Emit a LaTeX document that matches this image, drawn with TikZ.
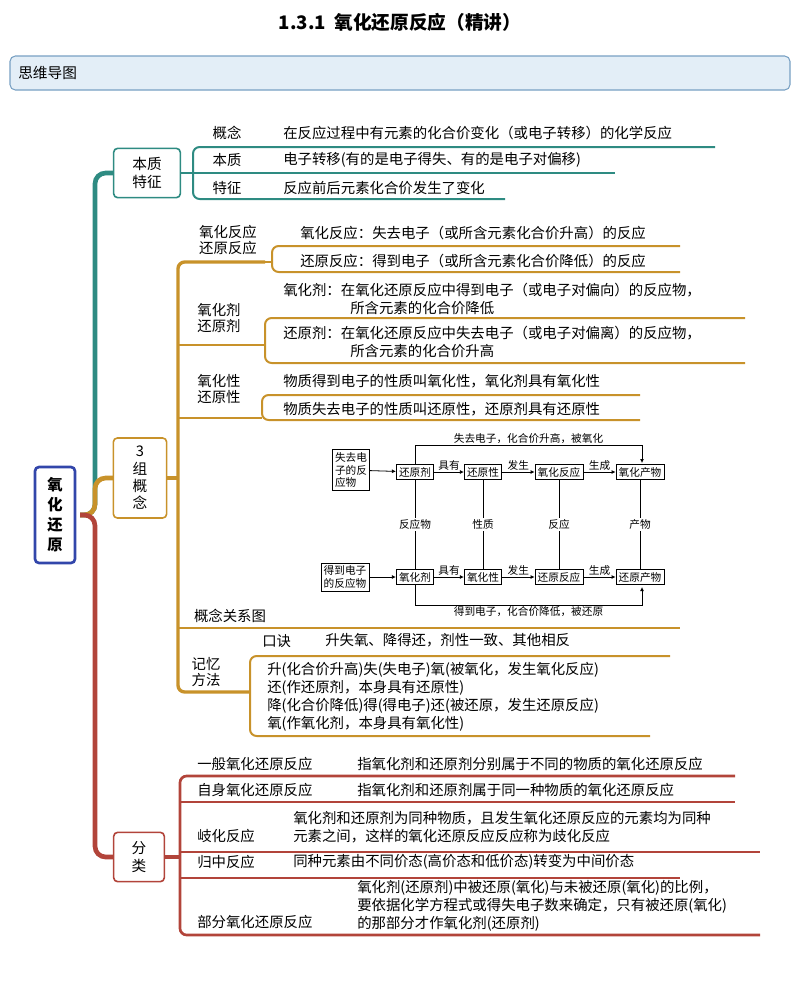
\documentclass[tikz,border=0pt]{standalone}
\usepackage{fontspec}
\setmainfont{Noto Sans CJK SC}
\usetikzlibrary{arrows.meta}
\definecolor{teal1}{RGB}{46,139,130}
\definecolor{gold1}{RGB}{200,146,42}
\definecolor{red1}{RGB}{178,68,58}
\definecolor{hdr}{RGB}{227,238,247}
\definecolor{hdrb}{RGB}{120,160,195}
\definecolor{rootb}{RGB}{50,70,170}
\begin{document}
\begin{tikzpicture}[x=0.75pt,y=-0.75pt,
  t/.style={anchor=west,inner sep=0pt,font=\fontsize{10.8}{12}\selectfont},
  lab/.style={inner sep=0pt,font=\fontsize{10.8}{12}\selectfont,align=center},
  box/.style={draw,rounded corners=3pt,line width=1.2pt,fill=white,align=center,font=\fontsize{11}{13}\selectfont},
  db/.style={draw,line width=0.6pt,inner sep=2pt,font=\fontsize{8}{9.5}\selectfont,align=left,fill=white},
  dl/.style={inner sep=1pt,font=\fontsize{8}{9.5}\selectfont},
  arr/.style={-{Latex[length=3pt,width=3pt]},line width=0.6pt},
  trunk/.style={line width=3.5pt,rounded corners=8pt},
  br/.style={line width=1.5pt,rounded corners=5pt}]
\useasboundingbox (0,0) rectangle (800,1001);
\node[font=\bfseries\fontsize{14}{16}\selectfont] (title) at (400,22) {1.3.1\ \ 氧化还原反应（精讲）};
\draw[draw=hdrb,fill=hdr,rounded corners=4pt,line width=0.8pt] (10,56) rectangle (790,90);
\node[t,font=\fontsize{11}{13}\selectfont] (hdr) at (18,73) {思维导图};
% trunks
\draw[teal1,trunk] (80,515) -- (95,515) -- (95,173) -- (113,173);
\draw[gold1,trunk] (80,515) -- (95,515) -- (95,478) -- (113,478);
\draw[red1,trunk] (80,515) -- (95,515) -- (95,857) -- (113,857);
\node[draw=rootb,line width=2pt,rounded corners=3pt,fill=white,minimum width=30pt,minimum height=72pt,align=center,font=\bfseries\fontsize{11.5}{15}\selectfont] (root) at (55,515) {氧\\化\\还\\原};
% teal group
\node[box,draw=teal1,minimum width=50pt,minimum height=37pt] (bz) at (147,173) {本质\\特征};
\draw[teal1,br] (bz.east) -- (193,173);
\draw[teal1,br] (715,147) -- (193,147) -- (193,199) -- (505,199);
\draw[teal1,br] (193,173) -- (615,173);
\node[lab] (l1) at (227,133) {概念};
\node[lab] (l2) at (227,160) {本质};
\node[lab] (l3) at (227,188) {特征};
\node[t] (t1) at (283,133) {在反应过程中有元素的化合价变化（或电子转移）的化学反应};
\node[t] (t2) at (283,160) {电子转移(有的是电子得失、有的是电子对偏移)};
\node[t] (t3) at (283,188) {反应前后元素化合价发生了变化};
% gold group
\node[box,draw=gold1,minimum width=40pt,minimum height=60pt] (sz) at (140,478) {3\\组\\概\\念};
\draw[gold1,line width=2.5pt] (sz.east) -- (178,478);
\draw[gold1,br,line width=2.5pt] (265,262) -- (178,262) -- (178,692) -- (250,692);
\draw[gold1,br] (178,345) -- (265,345);
\draw[gold1,br] (178,418) -- (262,418);
\draw[gold1,br] (178,628) -- (680,628);
\node[lab] (g1) at (228,240) {氧化反应\\还原反应};
\node[lab] (g2) at (219,318) {氧化剂\\还原剂};
\node[lab] (g3) at (219,389) {氧化性\\还原性};
\node[lab] (g4) at (230,616) {概念关系图};
\node[lab] (g5) at (206,672) {记忆\\方法};
\draw[gold1,br] (680,246) -- (272,246) -- (272,272) -- (680,272);
\draw[gold1,br] (265,262) -- (272,262);
\node[t] (a1) at (300,233) {氧化反应：失去电子（或所含元素化合价升高）的反应};
\node[t] (a2) at (300,261) {还原反应：得到电子（或所含元素化合价降低）的反应};
\draw[gold1,br] (745,318) -- (265,318) -- (265,363) -- (745,363);
\node[t] (b1) at (283,290) {氧化剂：在氧化还原反应中得到电子（或电子对偏向）的反应物，};
\node[t] (b1b) at (350,308) {所含元素的化合价降低};
\node[t] (b2) at (283,333) {还原剂：在氧化还原反应中失去电子（或电子对偏离）的反应物，};
\node[t] (b2b) at (350,351) {所含元素的化合价升高};
\draw[gold1,br] (640,395) -- (262,395) -- (262,420) -- (640,420);
\node[t] (c1) at (283,381) {物质得到电子的性质叫氧化性，氧化剂具有氧化性};
\node[t] (c2) at (283,409) {物质失去电子的性质叫还原性，还原剂具有还原性};
\node[t] (k0) at (262,641) {口诀};
\node[t] (k1) at (325,640) {升失氧、降得还，剂性一致、其他相反};
\draw[gold1,br] (670,656) -- (250,656) -- (250,736) -- (650,736);
\node[t] (m1) at (267,670) {升(化合价升高)失(失电子)氧(被氧化，发生氧化反应)};
\node[t] (m2) at (267,688) {还(作还原剂，本身具有还原性)};
\node[t] (m3) at (267,706) {降(化合价降低)得(得电子)还(被还原，发生还原反应)};
\node[t] (m4) at (267,724) {氧(作氧化剂，本身具有氧化性)};
% diagram
\node[db] (s1) at (351,470) {失去电\\子的反\\应物};
\node[db] (s2) at (345,577) {得到电子\\的反应物};
\node[db] (r1) at (415,472) {还原剂};
\node[db] (r2) at (483,472) {还原性};
\node[db] (r3) at (559,472) {氧化反应};
\node[db] (r4) at (640,472) {氧化产物};
\node[db] (o1) at (415,577) {氧化剂};
\node[db] (o2) at (483,577) {氧化性};
\node[db] (o3) at (559,577) {还原反应};
\node[db] (o4) at (640,577) {还原产物};
\draw[arr] (s1) -- (r1);
\draw[arr] (s2) -- (o1);
\draw[arr] (r1) -- node[dl,above]{具有} (r2);
\draw[arr] (r2) -- node[dl,above]{发生} (r3);
\draw[arr] (r3) -- node[dl,above]{生成} (r4);
\draw[arr] (o1) -- node[dl,above]{具有} (o2);
\draw[arr] (o2) -- node[dl,above]{发生} (o3);
\draw[arr] (o3) -- node[dl,above]{生成} (o4);
\draw[line width=0.6pt] (r1) -- node[dl,fill=white]{反应物} (o1);
\draw[line width=0.6pt] (r2) -- node[dl,fill=white]{性质} (o2);
\draw[line width=0.6pt] (r3) -- node[dl,fill=white]{反应} (o3);
\draw[line width=0.6pt] (r4) -- node[dl,fill=white]{产物} (o4);
\draw[arr] (r1.north) -- (415,445) -- node[dl,above]{失去电子，化合价升高，被氧化} (642,445) -- (642,463);
\draw[arr] (o1.south) -- (415,605) -- node[dl,below]{得到电子，化合价降低，被还原} (642,605) -- (642,587);
% red group
\node[box,draw=red1,minimum width=38pt,minimum height=37pt] (fl) at (139,857) {分\\类};
\draw[red1,line width=2.5pt] (fl.east) -- (180,857);
\draw[red1,br,line width=2pt] (735,776) -- (180,776) -- (180,935) -- (760,935);
\draw[red1,br] (180,802) -- (735,802);
\draw[red1,br] (180,852) -- (760,852);
\draw[red1,br] (180,878) -- (680,878);
\node[t] (f1) at (197,764) {一般氧化还原反应};
\node[t] (f2) at (197,790) {自身氧化还原反应};
\node[t] (f3) at (197,836) {岐化反应};
\node[t] (f4) at (197,862) {归中反应};
\node[t] (f5) at (197,922) {部分氧化还原反应};
\node[t] (e1) at (357,764) {指氧化剂和还原剂分别属于不同的物质的氧化还原反应};
\node[t] (e2) at (357,790) {指氧化剂和还原剂属于同一种物质的氧化还原反应};
\node[t] (e3) at (293,818) {氧化剂和还原剂为同种物质，且发生氧化还原反应的元素均为同种};
\node[t] (e3b) at (293,836) {元素之间，这样的氧化还原反应反应称为歧化反应};
\node[t] (e4) at (293,862) {同种元素由不同价态(高价态和低价态)转变为中间价态};
\node[t] (e5) at (357,888) {氧化剂(还原剂)中被还原(氧化)与未被还原(氧化)的比例，};
\node[t] (e5b) at (357,906) {要依据化学方程式或得失电子数来确定，只有被还原(氧化)};
\node[t] (e5c) at (357,924) {的那部分才作氧化剂(还原剂)};
\end{tikzpicture}
\end{document}
